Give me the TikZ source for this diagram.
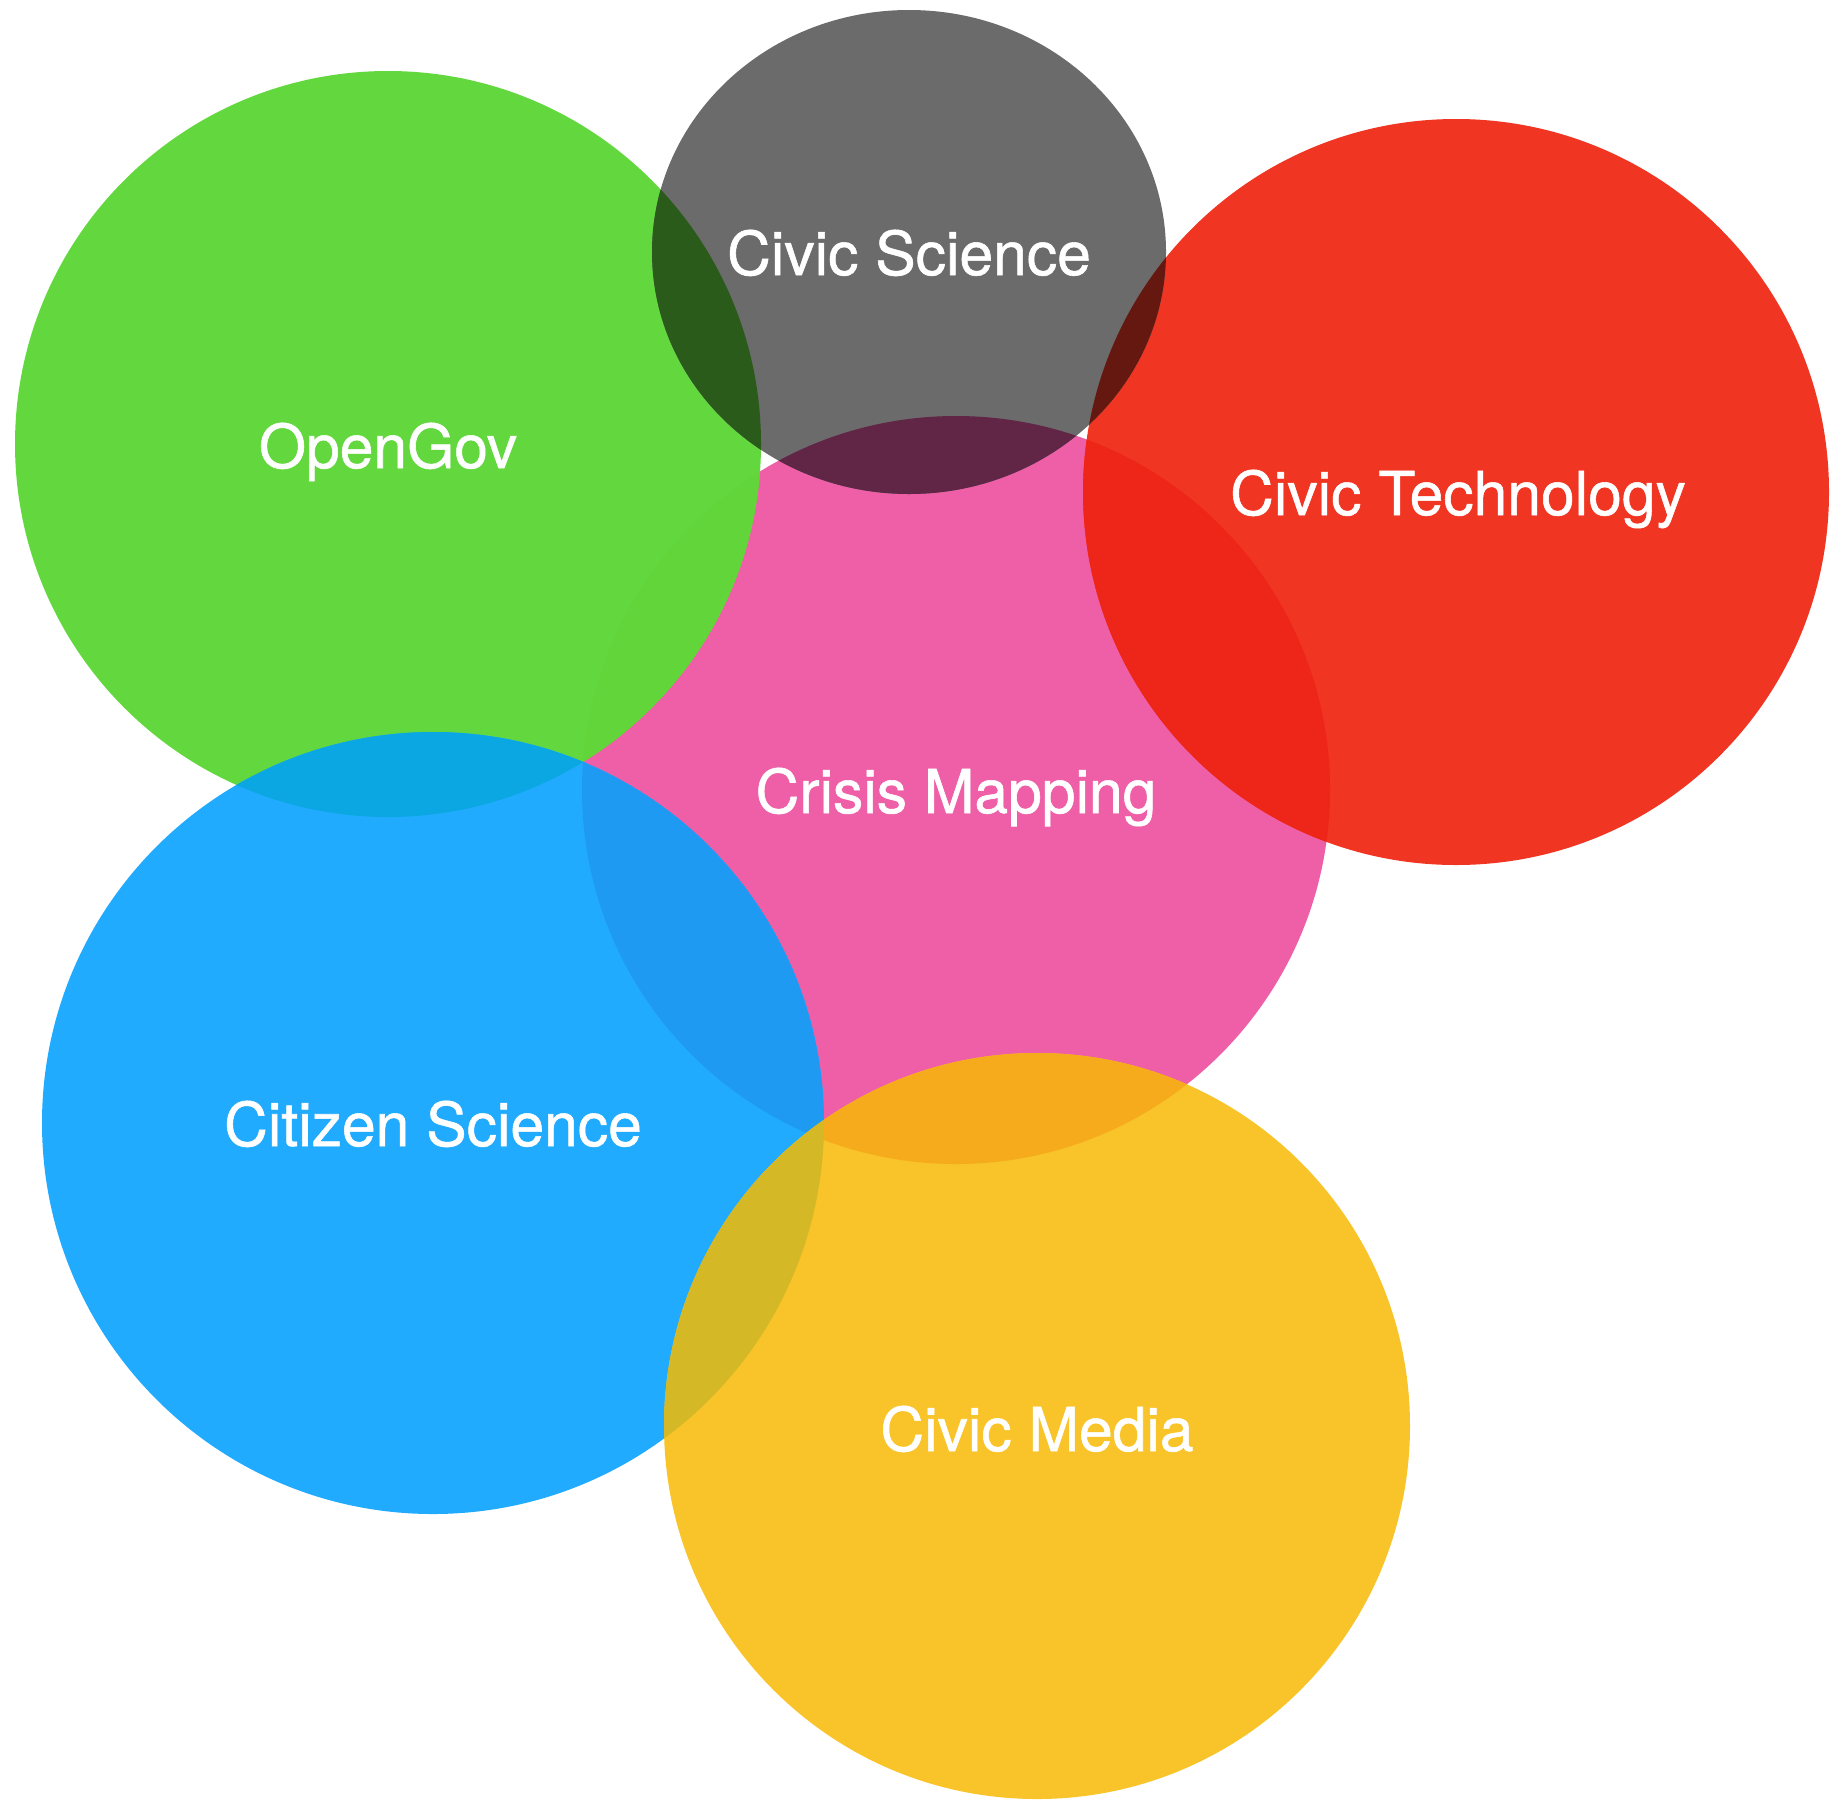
\documentclass[tikz,border=0pt]{standalone}
\usepackage{fontspec}
\setmainfont{TeX Gyre Heros}
\newfontfamily\bubblefont{TeX Gyre Heros}[FakeBold=0.9]

% circle colours
\definecolor{govgreen}{HTML}{63D83E}
\definecolor{scigray}{HTML}{6B6B6B}
\definecolor{techred}{HTML}{F03522}
\definecolor{mappink}{HTML}{EF5FA7}
\definecolor{citblue}{HTML}{21ABFE}
\definecolor{mediayellow}{HTML}{F8C42A}
% overlap colours
\definecolor{govpink}{HTML}{62D53A}
\definecolor{techpink}{HTML}{EE2519}
\definecolor{citgov}{HTML}{0BA7E3}
\definecolor{citpink}{HTML}{1F9AF2}
\definecolor{mediapink}{HTML}{F5AB1B}
\definecolor{mediacit}{HTML}{D4B826}
\definecolor{scigov}{HTML}{2B5B1A}
\definecolor{scipink}{HTML}{612545}
\definecolor{scired}{HTML}{651810}
\definecolor{sciredpink}{HTML}{64100A}

\tikzset{
	bubble text/.style={text=white, font=\bubblefont\fontsize{34.5}{40}\selectfont, anchor=base}
}

\begin{document}
\begin{tikzpicture}[x=0.02cm, y=-0.02cm]
	\useasboundingbox (0,0) rectangle (1848,1799);

	% centres
	\coordinate (gov) at (388,444);
	\coordinate (sci) at (909,252);
	\coordinate (tech) at (1456,492);
	\coordinate (crisis) at (956,790);
	\coordinate (cit) at (433,1123);
	\coordinate (media) at (1037,1426);

	% circles
	\fill[mappink] (crisis) circle (374);
	\fill[govgreen] (gov) circle (373);
	\begin{scope}
		\clip (gov) circle (373);
		\fill[govpink] (crisis) circle (374);
	\end{scope}

	\fill[techred] (tech) circle (373);
	\begin{scope}
		\clip (tech) circle (373);
		\fill[techpink] (crisis) circle (374);
	\end{scope}

	\fill[citblue] (cit) circle (391);
	\begin{scope}
		\clip (cit) circle (391);
		\fill[citgov] (gov) circle (373);
		\fill[citpink] (crisis) circle (374);
	\end{scope}

	\fill[mediayellow] (media) circle (373);
	\begin{scope}
		\clip (media) circle (373);
		\fill[mediapink] (crisis) circle (374);
		\fill[mediacit] (cit) circle (391);
	\end{scope}

	\fill[scigray] (sci) ellipse (257 and 242);
	\begin{scope}
		\clip (sci) ellipse (257 and 242);
		\fill[scigov] (gov) circle (373);
		\fill[scipink] (crisis) circle (374);
		\fill[scired] (tech) circle (373);
		\begin{scope}
			\clip (tech) circle (373);
			\fill[sciredpink] (crisis) circle (374);
		\end{scope}
	\end{scope}

	% labels
	\node[bubble text] (govlabel) at (388,468) {OpenGov};
	\node[bubble text] (scilabel) at (909,275) {Civic Science};
	\node[bubble text] (techlabel) at (1458,515) {Civic Technology};
	\node[bubble text] (crisislabel) at (956,813) {Crisis Mapping};
	\node[bubble text] (citlabel) at (433,1146) {Citizen Science};
	\node[bubble text] (medialabel) at (1037,1451) {Civic Media};

\end{tikzpicture}
\end{document}
